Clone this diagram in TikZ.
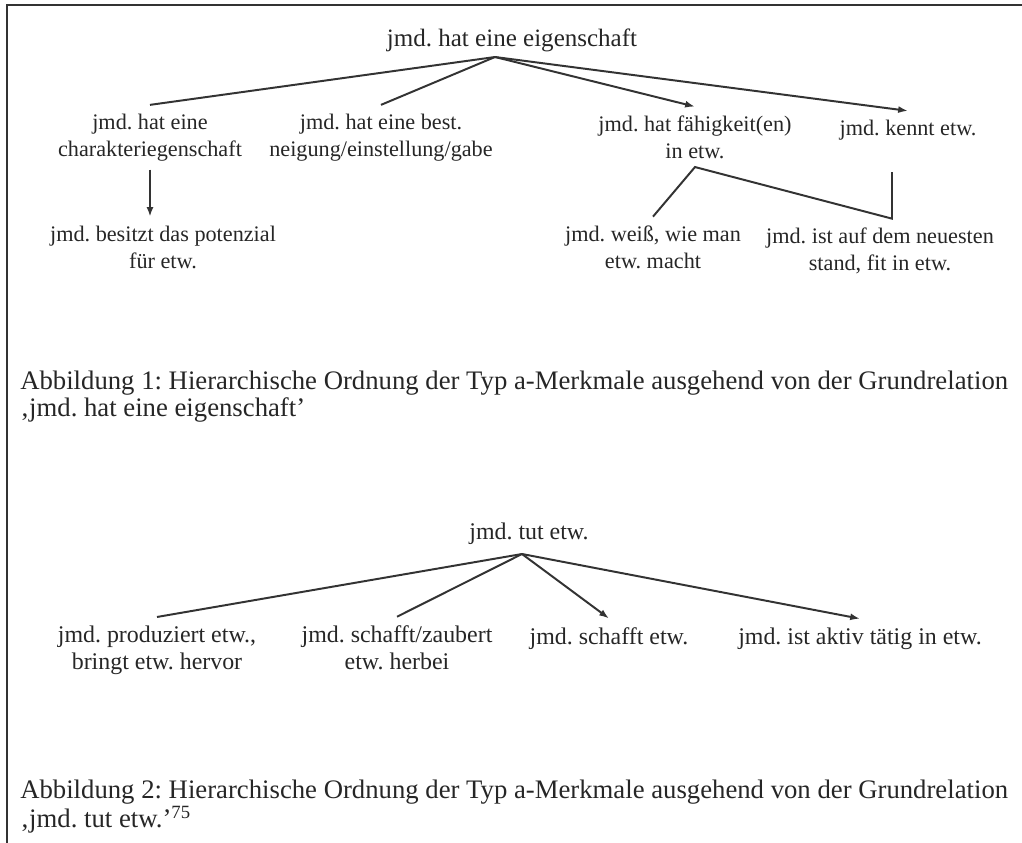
\documentclass[tikz,border=0pt]{standalone}
\usepackage{fontspec}
\setmainfont{Liberation Serif}
\usetikzlibrary{arrows.meta}

\begin{document}
\frenchspacing
\begin{tikzpicture}[%
      x=0.025cm, y=-0.025cm, %
      term/.style={anchor=base, align=center, inner xsep=0pt, inner ysep=6pt, text=black!85,
        font=\fontsize{15.8}{19.2}\selectfont},
      rootterm/.style={term, font=\fontsize{17.8}{19.5}\selectfont},
      smallterm/.style={term, font=\fontsize{17}{19}\selectfont},
      captext/.style={anchor=north west, align=left, inner sep=0pt, text=black!85,
        font=\fontsize{19}{18.8}\selectfont},
      link/.style={draw=black!80, line width=1.4pt},
      linkarrow/.style={link, -{Latex[length=7pt,width=5pt]}}
      ]
      \useasboundingbox (0,0) rectangle (1022,843);

      % Frame
      \draw[black!80, line width=2pt] (7,843) -- (7,5) -- (1022,5);

      % Tree: jmd. hat eine eigenschaft
      % (base = baseline of the last line)
      \node[rootterm] (eigenschaft) at (512,46) {jmd. hat eine eigenschaft};
      \coordinate (fan1) at (495,57);

      \node[term] (charakter) at (150,156) {jmd. hat eine\\charakteriegenschaft};
      \node[term] (neigung) at (381,156) {jmd. hat eine best.\\neigung/einstellung/gabe};
      \node[term] (faehig) at (695,158) {jmd. hat fähigkeit(en)\\in etw.};
      \node[term] (kennt) at (908,135) {jmd. kennt etw.};

      \node[term] (potenzial) at (163,268) {jmd. besitzt das potenzial\\für etw.};
      \node[term] (weiss) at (653,268) {jmd. weiß, wie man\\etw. macht};
      \node[term] (neuest) at (880,270) {jmd. ist auf dem neuesten\\stand, fit in etw.};
      \coordinate (kenntfoot) at (892,172);

      \draw[link] (fan1) -- (charakter.north);
      \draw[link] (fan1) -- (neigung.north);
      \draw[linkarrow] (fan1) -- (faehig.north);
      \draw[linkarrow] (fan1) -- (kennt.north);
      \draw[linkarrow] (charakter.south) -- (charakter.south |- potenzial.north);
      \draw[link] (weiss.north) -- (faehig.south) -- (neuest.north -| kenntfoot) -- (kenntfoot);

      \node[captext] (cap1) at (20,371) {Abbildung 1: Hierarchische Ordnung der Typ a-Merkmale ausgehend von der Grundrelation\\‚jmd. hat eine eigenschaft’};

      % Tree: jmd. tut etw.
      \node[smallterm] (tut) at (529,539) {jmd. tut etw.};
      \coordinate (fan2) at (522,554);

      \node[smallterm] (produziert) at (157,669) {jmd. produziert etw.,\\bringt etw. hervor};
      \node[smallterm] (zaubert) at (397,669) {jmd. schafft/zaubert\\etw. herbei};
      \node[smallterm] (schafft) at (609,644) {jmd. schafft etw.};
      \node[smallterm] (aktiv) at (860,644) {jmd. ist aktiv tätig in etw.};

      \draw[link] (fan2) -- (produziert.north);
      \draw[link] (fan2) -- (zaubert.north);
      \draw[linkarrow] (fan2) -- (schafft.north);
      \draw[linkarrow] (fan2) -- (aktiv.north);

      \node[captext] (cap2) at (20,780) {Abbildung 2: Hierarchische Ordnung der Typ a-Merkmale ausgehend von der Grundrelation\\‚jmd. tut etw.’\textsuperscript{75}};

    \end{tikzpicture}
\end{document}
